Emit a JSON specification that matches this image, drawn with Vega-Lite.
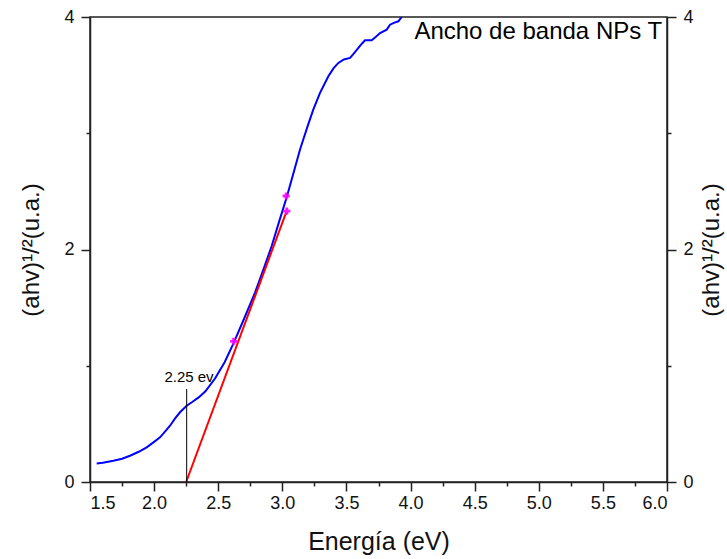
{
  "$schema": "https://vega.github.io/schema/vega-lite/v6.json",
  "width": 577,
  "height": 465,
  "autosize": {"type": "none"},
  "padding": {"left": 90, "top": 17, "right": 60, "bottom": 77},
  "config": {
    "font": "Liberation Sans",
    "view": {"stroke": "#222", "strokeWidth": 1.5},
    "axis": {"domainColor": "#222", "domainWidth": 1.5, "tickColor": "#222", "tickWidth": 1.5, "labelColor": "#111", "titleColor": "#111", "grid": false, "labelFont": "Liberation Sans", "titleFont": "Liberation Sans", "titleFontWeight": "normal"}
  },
  "datasets": {
    "curve": [
      {"x": 1.552, "y": 0.160}, {"x": 1.60, "y": 0.165}, {"x": 1.682, "y": 0.183}, {"x": 1.75, "y": 0.200},
      {"x": 1.812, "y": 0.226}, {"x": 1.88, "y": 0.260}, {"x": 1.942, "y": 0.298}, {"x": 2.00, "y": 0.345},
      {"x": 2.046, "y": 0.384}, {"x": 2.09, "y": 0.440}, {"x": 2.124, "y": 0.484}, {"x": 2.165, "y": 0.550},
      {"x": 2.202, "y": 0.600}, {"x": 2.254, "y": 0.656}, {"x": 2.30, "y": 0.690}, {"x": 2.35, "y": 0.730},
      {"x": 2.40, "y": 0.780}, {"x": 2.475, "y": 0.890}, {"x": 2.55, "y": 1.030}, {"x": 2.618, "y": 1.190},
      {"x": 2.70, "y": 1.400}, {"x": 2.787, "y": 1.630}, {"x": 2.85, "y": 1.820}, {"x": 2.917, "y": 2.030},
      {"x": 2.975, "y": 2.240}, {"x": 3.034, "y": 2.450}, {"x": 3.085, "y": 2.650}, {"x": 3.138, "y": 2.860},
      {"x": 3.164, "y": 2.948}, {"x": 3.20, "y": 3.070}, {"x": 3.242, "y": 3.206}, {"x": 3.294, "y": 3.347},
      {"x": 3.359, "y": 3.490}, {"x": 3.40, "y": 3.560}, {"x": 3.437, "y": 3.605}, {"x": 3.48, "y": 3.635},
      {"x": 3.528, "y": 3.648}, {"x": 3.56, "y": 3.690}, {"x": 3.593, "y": 3.734}, {"x": 3.62, "y": 3.770},
      {"x": 3.645, "y": 3.800}, {"x": 3.697, "y": 3.800}, {"x": 3.73, "y": 3.830}, {"x": 3.762, "y": 3.862},
      {"x": 3.814, "y": 3.891}, {"x": 3.840, "y": 3.934}, {"x": 3.87, "y": 3.950}, {"x": 3.905, "y": 3.963},
      {"x": 3.931, "y": 4.0}
    ],
    "tangent": [{"x": 2.25, "y": 0}, {"x": 3.03, "y": 2.32}],
    "marker": [{"x": 2.62, "y": 1.21}, {"x": 3.035, "y": 2.33}, {"x": 3.03, "y": 2.46}],
    "vline": [{"x": 2.254, "y": 0, "y2": 0.80}],
    "labels": [
      {"x": 4.03, "y": 3.87, "text": "Ancho de banda NPs T", "kind": "title"},
      {"x": 2.272, "y": 0.904, "text": "2.25 ev", "kind": "note"}
    ]
  },
  "resolve": {"axis": {"x": "independent", "y": "independent"}},
  "layer": [
    {
      "data": {"name": "curve"},
      "mark": {"type": "line", "color": "#0000ff", "strokeWidth": 2, "clip": true},
      "encoding": {
        "x": {"field": "x", "type": "quantitative", "scale": {"domain": [1.5, 6], "nice": false, "zero": false},
          "axis": {"orient": "bottom", "values": [1.5, 2, 2.5, 3, 3.5, 4, 4.5, 5, 5.5, 6], "format": ".1f", "tickSize": 9, "labelFontSize": 18, "labelPadding": 3, "title": "Energía (eV)", "titleFontSize": 25, "titlePadding": 17}},
        "y": {"field": "y", "type": "quantitative", "scale": {"domain": [0, 4], "nice": false, "zero": false},
          "axis": {"orient": "left", "values": [0, 2, 4], "tickSize": 9, "labelFontSize": 18, "labelPadding": 7, "title": "(ahv)¹/²(u.a.)", "titleFontSize": 24, "titlePadding": 20}}
      }
    },
    {
      "data": {"name": "tangent"},
      "mark": {"type": "line", "color": "#ff0000", "strokeWidth": 2},
      "encoding": {
        "x": {"field": "x", "type": "quantitative", "scale": {"domain": [1.5, 6], "nice": false, "zero": false},
          "axis": {"orient": "bottom", "values": [1.75, 2.25, 2.75, 3.25, 3.75, 4.25, 4.75, 5.25, 5.75], "labels": false, "tickSize": 4, "domain": false, "title": null}},
        "y": {"field": "y", "type": "quantitative", "scale": {"domain": [0, 4], "nice": false, "zero": false},
          "axis": {"orient": "right", "values": [0, 2, 4], "tickSize": 9, "labelFontSize": 18, "labelPadding": 7, "title": "(ahv)¹/²(u.a.)", "titleFontSize": 24, "titleAngle": 270, "titleBaseline": "top", "titlePadding": 6}}
      }
    },
    {
      "data": {"name": "vline"},
      "mark": {"type": "rule", "color": "#000000", "strokeWidth": 1},
      "encoding": {
        "x": {"field": "x", "type": "quantitative", "scale": {"domain": [1.5, 6], "nice": false, "zero": false}, "axis": null},
        "y": {"field": "y", "type": "quantitative", "scale": {"domain": [0, 4], "nice": false, "zero": false},
          "axis": {"orient": "left", "values": [1, 3], "labels": false, "tickSize": 4, "domain": false, "title": null}},
        "y2": {"field": "y2"}
      }
    },
    {
      "data": {"name": "marker"},
      "mark": {"type": "point", "shape": "cross", "filled": true, "color": "#ff00ff", "size": 50, "opacity": 0.9},
      "encoding": {
        "x": {"field": "x", "type": "quantitative", "scale": {"domain": [1.5, 6], "nice": false, "zero": false}, "axis": null},
        "y": {"field": "y", "type": "quantitative", "scale": {"domain": [0, 4], "nice": false, "zero": false},
          "axis": {"orient": "right", "values": [1, 3], "labels": false, "tickSize": 4, "domain": false, "title": null}}
      }
    },
    {
      "data": {"name": "labels"},
      "transform": [{"filter": "datum.kind === 'title'"}],
      "mark": {"type": "text", "align": "left", "baseline": "middle", "fontSize": 24, "color": "#000000"},
      "encoding": {
        "x": {"field": "x", "type": "quantitative", "scale": {"domain": [1.5, 6], "nice": false, "zero": false}, "axis": null},
        "y": {"field": "y", "type": "quantitative", "scale": {"domain": [0, 4], "nice": false, "zero": false}, "axis": null},
        "text": {"field": "text"}
      }
    },
    {
      "data": {"name": "labels"},
      "transform": [{"filter": "datum.kind === 'note'"}],
      "mark": {"type": "text", "align": "center", "baseline": "middle", "fontSize": 15, "color": "#000000"},
      "encoding": {
        "x": {"field": "x", "type": "quantitative", "scale": {"domain": [1.5, 6], "nice": false, "zero": false}, "axis": null},
        "y": {"field": "y", "type": "quantitative", "scale": {"domain": [0, 4], "nice": false, "zero": false}, "axis": null},
        "text": {"field": "text"}
      }
    }
  ]
}
